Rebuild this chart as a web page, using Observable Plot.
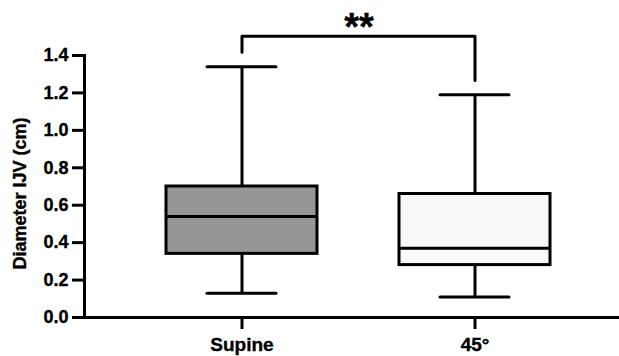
<!DOCTYPE html>
<html>
<head>
<meta charset="utf-8">
<script src="https://cdn.jsdelivr.net/npm/d3@7"></script>
<script src="https://cdn.jsdelivr.net/npm/@observablehq/plot@0.6"></script>
<style>
  html, body { margin: 0; padding: 0; background: #fff; }
  #chart { width: 619px; height: 356px; }
  #chart svg text { stroke: #000; stroke-width: 0.35px; }
</style>
</head>
<body>
<div id="chart"></div>
<script>
// ---- data ----
const categories = ["Supine", "45°"];
const maxValues = [1.34, 1.19];
const q3Values = [0.70, 0.66];
const medianValues = [0.54, 0.37];
const q1Values = [0.34, 0.28];
const minValues = [0.13, 0.11];
const boxFills = ["#969696", "#f9f9f9"];
const yTicks = [0, 0.2, 0.4, 0.6, 0.8, 1.0, 1.2, 1.4];
const yLabel = "Diameter IJV (cm)";
// significance bracket
const bracketX = ["Supine", "Supine", "45°", "45°"];
const bracketY = [1.418, 1.503, 1.503, 1.267];
const sigLabel = "**";

const boxes = categories.map((c, i) => ({
  cat: c, max: maxValues[i], q3: q3Values[i], median: medianValues[i],
  q1: q1Values[i], min: minValues[i], fill: boxFills[i]
}));
const bracket = bracketX.map((x, i) => ({x, y: bracketY[i]}));

const font = "'Liberation Sans', Arial, Helvetica, sans-serif";

const chart = Plot.plot({
  width: 619,
  height: 356,
  marginLeft: 84,
  marginRight: 0,
  marginTop: 55,
  marginBottom: 39,
  style: {fontFamily: font, fontWeight: "bold", background: "#fff", overflow: "visible"},
  x: {type: "band", domain: categories, paddingInner: 0.354, paddingOuter: 0.321, align: 0.543},
  y: {domain: [0, 1.4]},
  marks: [
    Plot.axisY({
      ticks: yTicks, tickFormat: d3.format(".1f"), tickSize: 12, tickPadding: 4,
      strokeWidth: 3, fontSize: 18, fontWeight: "bold", fill: "#000", label: null
    }),
    Plot.text([yLabel], {
      frameAnchor: "left", rotate: -90, text: d => d, dx: -64, dy: 7,
      textAnchor: "middle", lineAnchor: "middle", fontSize: 18, fontWeight: "bold", fill: "#000"
    }),
    Plot.axisX({
      tickSize: 12, tickPadding: 8, strokeWidth: 3, fontSize: 19, fontWeight: "bold",
      fill: "#000", label: null
    }),
    Plot.frame({anchor: "left", strokeWidth: 3, stroke: "#000"}),
    Plot.ruleY([0], {strokeWidth: 3, stroke: "#000"}),
    // whiskers
    Plot.ruleX(boxes, {x: "cat", y1: "min", y2: "q1", strokeWidth: 3, stroke: "#000"}),
    Plot.ruleX(boxes, {x: "cat", y1: "q3", y2: "max", strokeWidth: 3, stroke: "#000"}),
    // whisker caps
    Plot.tickY(boxes, {x: "cat", y: "max", insetLeft: 41, insetRight: 41, strokeWidth: 3, stroke: "#000", strokeLinecap: "round"}),
    Plot.tickY(boxes, {x: "cat", y: "min", insetLeft: 41, insetRight: 41, strokeWidth: 3, stroke: "#000", strokeLinecap: "round"}),
    // boxes
    Plot.barY(boxes, {x: "cat", y1: "q1", y2: "q3", fill: "fill", stroke: "#000", strokeWidth: 3}),
    // medians
    Plot.tickY(boxes, {x: "cat", y: "median", strokeWidth: 3, stroke: "#000"}),
    // significance bracket
    Plot.line(bracket, {x: "x", y: "y", strokeWidth: 3, stroke: "#000", curve: "linear"}),
    Plot.text([sigLabel], {
      x: () => categories[0], y: () => bracketY[1], text: d => d, dx: 117, dy: 4,
      lineAnchor: "bottom", fontSize: 38, fontWeight: "bold", fill: "#000"
    })
  ]
});
document.getElementById("chart").appendChild(chart);
</script>
</body>
</html>
